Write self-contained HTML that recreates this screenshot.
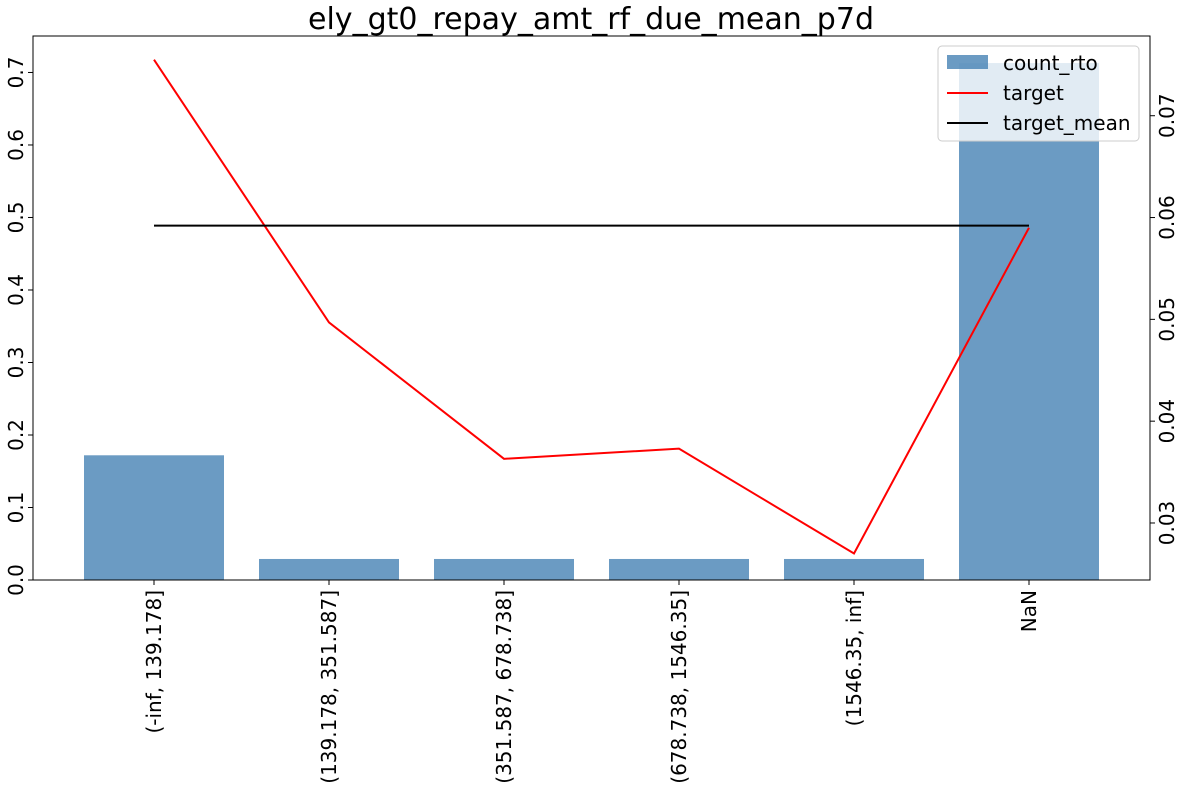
<!DOCTYPE html>
<html><head><meta charset="utf-8"><style>
body{margin:0;background:#fff;}
svg text{font-family:"DejaVu Sans","Liberation Sans",sans-serif;fill:#000;}
</style></head><body>
<svg id="chart" width="1182" height="788" xmlns="http://www.w3.org/2000/svg">
<text x="591" y="29" font-size="30" text-anchor="middle" textLength="566" lengthAdjust="spacingAndGlyphs">ely_gt0_repay_amt_rf_due_mean_p7d</text>
<g id="bars"></g><g id="lines"></g><g id="axes"></g>
<g>
<rect x="938" y="46" width="201" height="95" rx="4" fill="#fff" fill-opacity="0.8" stroke="#ccc"/>
<rect x="947" y="55" width="41" height="14" fill="#4682b4" fill-opacity="0.8"/>
<text x="1003" y="70" font-size="20">count_rto</text>
<line x1="947" y1="93" x2="988" y2="93" stroke="red" stroke-width="2"/>
<text x="1003" y="100" font-size="20">target</text>
<line x1="947" y1="123" x2="988" y2="123" stroke="#000" stroke-width="2"/>
<text x="1003" y="130" font-size="20">target_mean</text>
</g>
</svg>
<script>
const categories=["(-inf, 139.178]","(139.178, 351.587]","(351.587, 678.738]","(678.738, 1546.35]","(1546.35, inf]","NaN"];
const countRto=[0.172,0.029,0.029,0.029,0.029,0.713];
const target=[0.0755,0.0497,0.0363,0.0373,0.0270,0.0590];
const targetMean=[0.0592,0.0592,0.0592,0.0592,0.0592,0.0592];
const leftTicks=[0,0.1,0.2,0.3,0.4,0.5,0.6,0.7];
const rightTicks=[0.03,0.04,0.05,0.06,0.07];
const L=33,R=1150,T=36,B=580;
const NS="http://www.w3.org/2000/svg";
const xPos=i=>154+i*175;
const yL=v=>B-(v/0.7503)*(B-T);
const yR=v=>B-((v-0.0244)/(0.07783-0.0244))*(B-T);
function mk(tag,attrs,parent){const e=document.createElementNS(NS,tag);for(const k in attrs)e.setAttribute(k,attrs[k]);document.getElementById(parent).appendChild(e);return e;}
countRto.forEach((v,i)=>{
 const r=mk('rect',{x:xPos(i)-70,y:yL(v),width:140,height:B-yL(v),fill:'#4682b4','fill-opacity':0.8},'bars');
 
 
});
const tl=mk('polyline',{points:target.map((v,i)=>xPos(i)+','+yR(v)).join(' '),fill:'none',stroke:'red','stroke-width':2},'lines');


const ml=mk('polyline',{points:targetMean.map((v,i)=>xPos(i)+','+yR(v)).join(' '),fill:'none',stroke:'#000','stroke-width':2},'lines');


const fr=mk('rect',{x:L,y:T,width:R-L,height:B-T,fill:'none',stroke:'#000','stroke-width':1},'axes');


leftTicks.forEach(v=>{
 const y=yL(v);
 mk('line',{x1:L-5,y1:y,x2:L,y2:y,stroke:'#000'},'axes');
 const t=mk('text',{x:0,y:0,'font-size':20,'text-anchor':'middle',transform:`translate(${L-10},${y}) rotate(-90)`},'axes');
 t.textContent=v.toFixed(1);
 
 
});
rightTicks.forEach(v=>{
 const y=yR(v);
 mk('line',{x1:R,y1:y,x2:R+5,y2:y,stroke:'#000'},'axes');
 const t=mk('text',{x:0,y:0,'font-size':20,'text-anchor':'middle',transform:`translate(${R+24},${y}) rotate(-90)`},'axes');
 t.textContent=v.toFixed(2);
 
 
});
categories.forEach((c,i)=>{
 const x=xPos(i);
 mk('line',{x1:x,y1:B,x2:x,y2:B+5,stroke:'#000'},'axes');
 const t=mk('text',{x:0,y:0,'font-size':20,'text-anchor':'end',transform:`translate(${x+7},${B+10}) rotate(-90)`},'axes');
 t.textContent=c;
 
 
});
</script>
</body></html>
